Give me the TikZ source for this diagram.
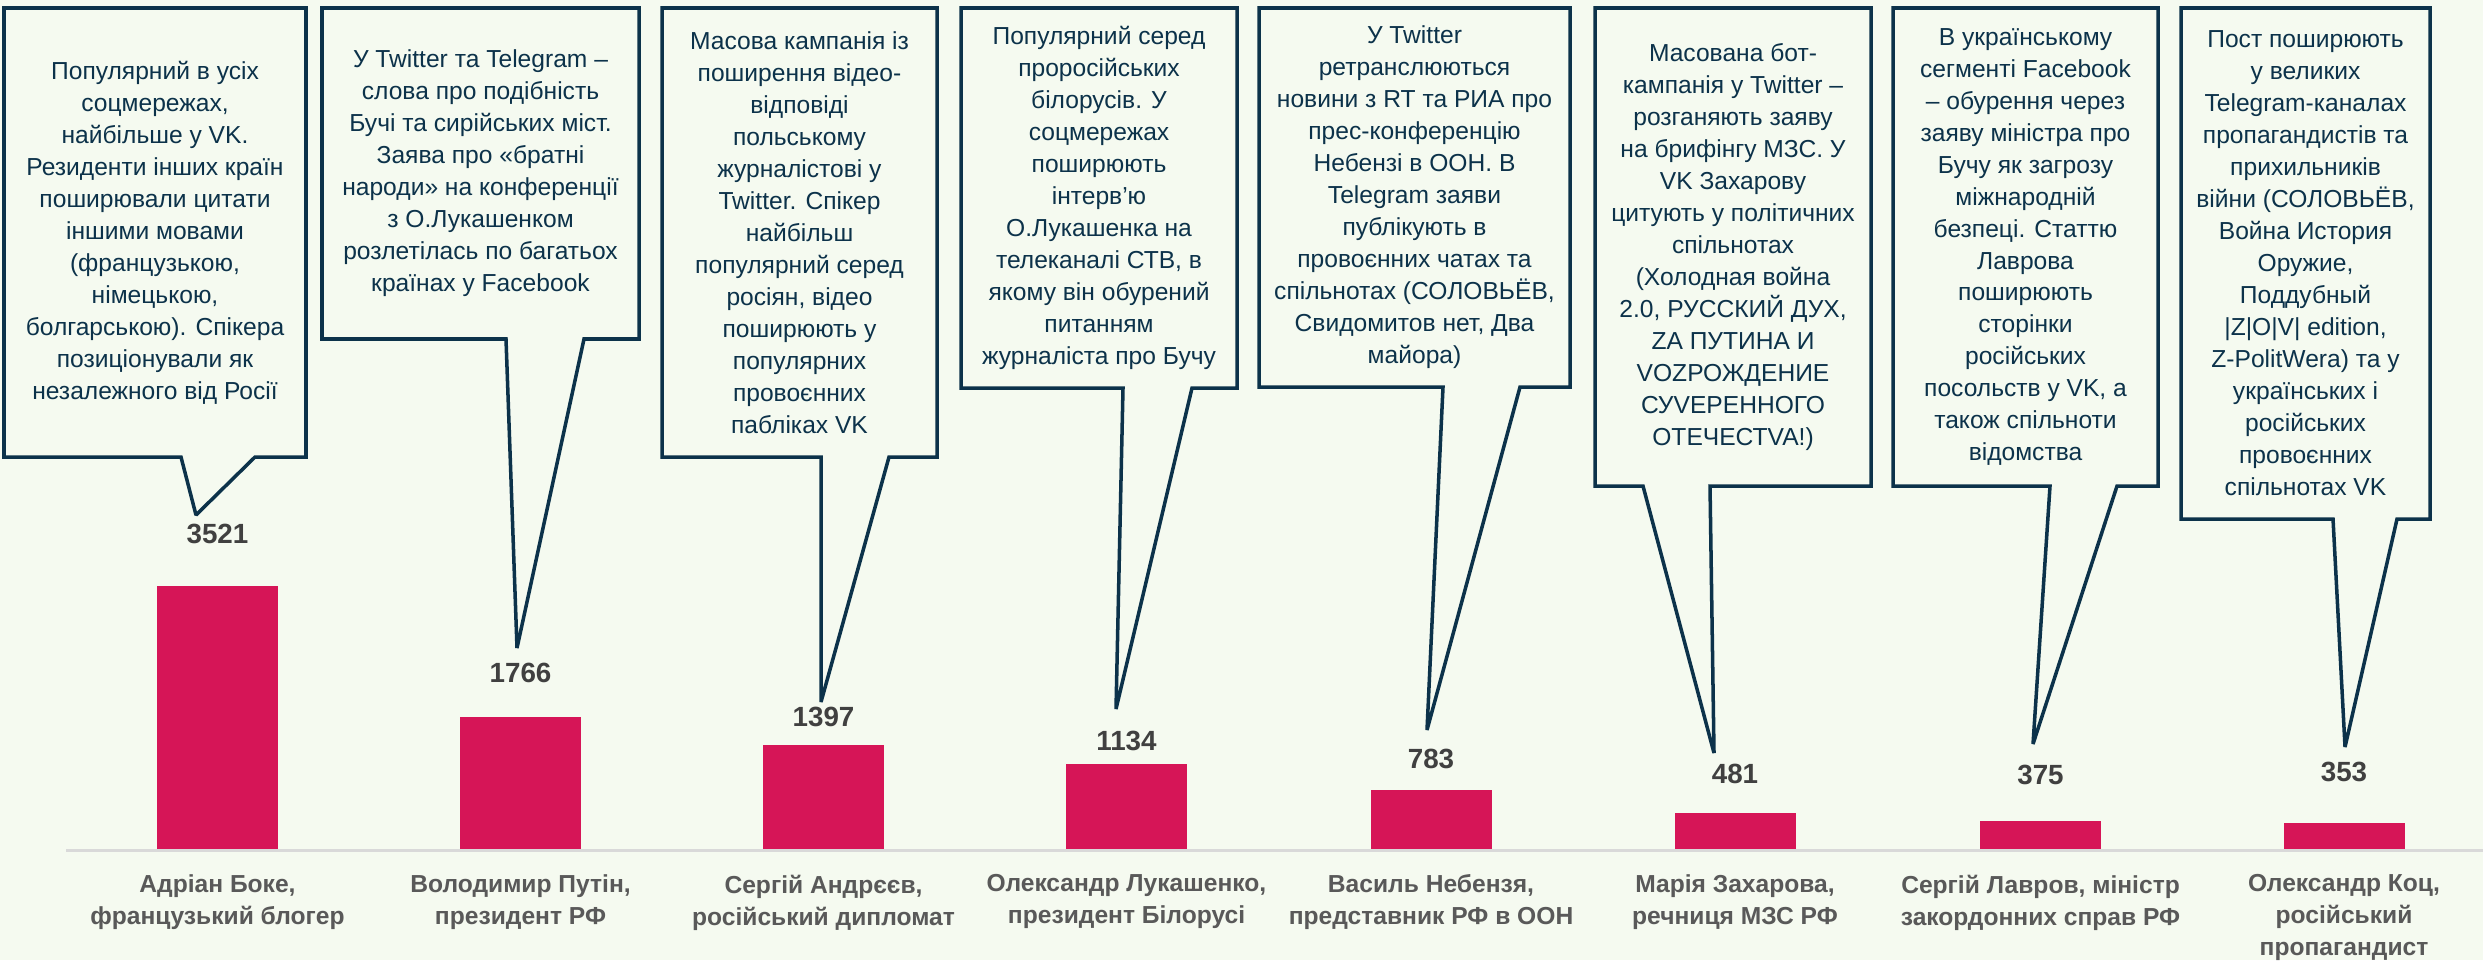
\documentclass[tikz,border=0pt]{standalone}
\usepackage{fontspec}
\setmainfont{Liberation Sans}
\usetikzlibrary{calc}

\definecolor{bgpale}{RGB}{245,250,240}
\definecolor{barred}{RGB}{214,21,87}
\definecolor{notenavy}{RGB}{12,50,74}
\definecolor{valgray}{RGB}{64,64,64}
\definecolor{namegray}{RGB}{89,89,89}
\definecolor{axisgray}{RGB}{217,217,217}

\begin{document}
\begin{tikzpicture}[
  notebox/.style={anchor=north west, inner sep=0pt, outer sep=0pt, align=center, text=notenavy, font=\fontsize{7}{9.1}\selectfont},
  noteline/.style={draw=notenavy, line width=1pt, miter limit=2},
  valtext/.style={inner sep=0pt, text=valgray, font=\fontsize{7.9}{9}\selectfont\bfseries},
  nametext/.style={anchor=north, align=center, inner sep=0pt, text=namegray, font=\fontsize{7}{9.1}\selectfont\bfseries}
]

\useasboundingbox (0,0) rectangle (24.83,9.60);
\fill[bgpale] (0,0) rectangle (24.83,9.60);

% Axis
\draw[axisgray, line width=0.9pt] (0.66,1.095) -- (24.83,1.095);

% Bars with their values
\foreach \i/\v/\x/\ly in {1/3521/2.175/4.26, 2/1766/5.205/2.87, 3/1397/8.235/2.43, 4/1134/11.265/2.19, 5/783/14.31/2.01, 6/481/17.35/1.86, 7/375/20.405/1.85, 8/353/23.44/1.88} {
    \fill[barred] (\x-0.605,1.11) rectangle (\x+0.605,1.11+\v*0.000747);
    \node[valtext] (val\i) at (\x,\ly) {\v};
}

% Speakers
\node[nametext] (name1) at (2.175,0.86) {Адріан Боке,\\французький блогер};
\node[nametext] (name2) at (5.205,0.86) {Володимир Путін,\\президент РФ};
\node[nametext] (name3) at (8.235,0.86) {Сергій Андрєєв,\\російський дипломат};
\node[nametext] (name4) at (11.265,0.86) {Олександр Лукашенко,\\президент Білорусі};
\node[nametext] (name5) at (14.31,0.86) {Василь Небензя,\\представник РФ в ООН};
\node[nametext] (name6) at (17.35,0.86) {Марія Захарова,\\речниця МЗС РФ};
\node[nametext] (name7) at (20.405,0.86) {Сергій Лавров, міністр\\закордонних справ РФ};
\node[nametext] (name8) at (23.44,0.86) {Олександр Коц,\\російський\\пропагандист};

% Callouts
\node[notebox, minimum width=3.02cm, minimum height=4.49cm] (note1) at (0.04,9.52) {
    Популярний в усіх\\соцмережах,\\найбільше у VK.\\Резиденти інших країн\\поширювали цитати\\іншими мовами\\(французькою,\\німецькою,\\болгарською). Спікера\\позиціонували як\\незалежного від Росії};
\node[notebox, minimum width=3.17cm, minimum height=3.31cm] (note2) at (3.22,9.52) {
    У Twitter та Telegram –\\слова про подібність\\Бучі та сирійських міст.\\Заява про «братні\\народи» на конференції\\з О.Лукашенком\\розлетілась по багатьох\\країнах у Facebook};
\node[notebox, minimum width=2.75cm, minimum height=4.49cm] (note3) at (6.62,9.52) {
    Масова кампанія із\\поширення відео-\\відповіді\\польському\\журналістові у\\Twitter. Спікер\\найбільш\\популярний серед\\росіян, відео\\поширюють у\\популярних\\провоєнних\\пабліках VK};
\node[notebox, minimum width=2.76cm, minimum height=3.80cm] (note4) at (9.61,9.52) {
    Популярний серед\\проросійських\\білорусів. У\\соцмережах\\поширюють\\інтерв’ю\\О.Лукашенка на\\телеканалі СТВ, в\\якому він обурений\\питанням\\журналіста про Бучу};
\node[notebox, minimum width=3.11cm, minimum height=3.79cm] (note5) at (12.59,9.52) {
    У Twitter\\ретранслюються\\новини з RT та РИА про\\прес-конференцію\\Небензі в ООН. В\\Telegram заяви\\публікують в\\провоєнних чатах та\\спільнотах (СОЛОВЬЁВ,\\Свидомитов нет, Два\\майора)};
\node[notebox, minimum width=2.76cm, minimum height=4.78cm] (note6) at (15.95,9.52) {
    Масована бот-\\кампанія у Twitter –\\розганяють заяву\\на брифінгу МЗС. У\\VK Захарову\\цитують у політичних\\спільнотах\\(Холодная война\\2.0, РУССКИЙ ДУХ,\\ZA ПУТИНА И\\VOZРОЖДЕНИЕ\\СУVЕРЕННОГО\\ОТЕЧЕСТVA!)};
\node[notebox, minimum width=2.65cm, minimum height=4.78cm] (note7) at (18.93,9.52) {
    В українському\\сегменті Facebook\\– обурення через\\заяву міністра про\\Бучу як загрозу\\міжнародній\\безпеці. Статтю\\Лаврова\\поширюють\\сторінки\\російських\\посольств у VK, а\\також спільноти\\відомства};
\node[notebox, minimum width=2.49cm, minimum height=5.11cm] (note8) at (21.81,9.52) {
    Пост поширюють\\у великих\\Telegram-каналах\\пропагандистів та\\прихильників\\війни (СОЛОВЬЁВ,\\Война История\\Оружие,\\Поддубный\\|Z|O|V| edition,\\Z-PolitWera) та у\\українських і\\російських\\провоєнних\\спільнотах VK};

% Callout outlines with pointers
\foreach \i/\bl/\br/\tx/\ty in {1/1.81/2.55/1.96/4.45, 2/5.06/5.84/5.17/3.12, 3/8.21/8.89/8.21/2.58, 4/11.23/11.92/11.16/2.51, 5/14.43/15.20/14.27/2.30, 6/16.43/17.10/17.14/2.07, 7/20.50/21.17/20.33/2.16, 8/23.33/23.97/23.45/2.13} {
    \coordinate (tip\i) at (\tx,\ty);
    \draw[noteline] (note\i.north west) -- (note\i.north east) -- (note\i.south east) -- (\br,0 |- note\i.south) -- (tip\i) -- (\bl,0 |- note\i.south) -- (note\i.south west) -- cycle;
}

\end{tikzpicture}
\end{document}
